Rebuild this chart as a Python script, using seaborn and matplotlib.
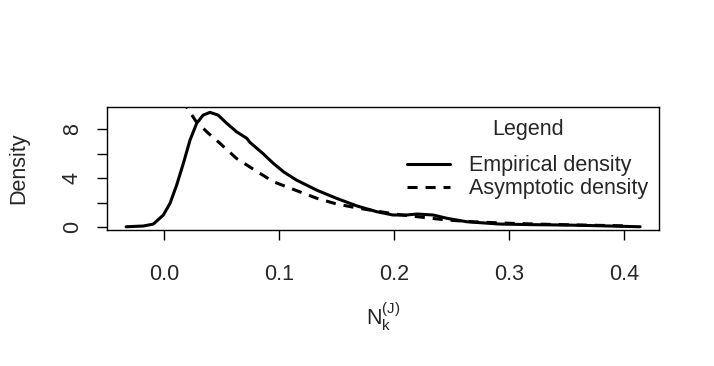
import numpy as np
import pandas as pd
import seaborn as sns
import matplotlib.pyplot as plt

# values
emp_x = [-0.033, -0.018, -0.0093, -0.0006, 0.0052, 0.011, 0.0168, 0.0226, 0.0284, 0.034,
         0.040, 0.047, 0.0545, 0.063, 0.072, 0.0748, 0.086, 0.095, 0.104, 0.115,
         0.133, 0.150, 0.168, 0.185, 0.199, 0.211, 0.220, 0.234, 0.246, 0.263,
         0.292, 0.321, 0.350, 0.379, 0.414]
emp_y = [0.02, 0.08, 0.24, 0.98, 1.93, 3.43, 5.2, 7.1, 8.47, 9.14,
         9.36, 9.14, 8.47, 7.78, 7.24, 6.9, 6.0, 5.2, 4.5, 3.84,
         3.0, 2.34, 1.71, 1.25, 0.98, 0.98, 1.06, 0.98, 0.71, 0.43,
         0.24, 0.19, 0.16, 0.10, 0.02]

asy_x = [0.016, 0.021, 0.028, 0.0386, 0.0487, 0.063, 0.078, 0.095, 0.115, 0.133,
         0.150, 0.170, 0.188, 0.205, 0.225, 0.246, 0.270, 0.301, 0.340, 0.397, 0.405]
asy_y = [10.4, 9.6, 8.6, 7.65, 6.83, 5.6, 4.7, 3.7, 2.98, 2.34,
         1.88, 1.52, 1.25, 1.0, 0.79, 0.57, 0.42, 0.30, 0.20, 0.10, 0.09]

emp = pd.DataFrame({'x': emp_x, 'y': emp_y})
asy = pd.DataFrame({'x': asy_x, 'y': asy_y})

sns.set_style("white")
plt.rcParams['font.family'] = ['Liberation Sans', 'DejaVu Sans']
fs = 15.5

fig = plt.figure(figsize=(7.14, 3.66), dpi=100)
ax = fig.add_axes([107 / 714, (366 - 230) / 366, (659 - 107) / 714, (230 - 107) / 366])

sns.lineplot(data=emp, x='x', y='y', ax=ax, color='black', linewidth=2.2,
             label='Empirical density', sort=False)
sns.lineplot(data=asy, x='x', y='y', ax=ax, color='black', linewidth=2.2,
             label='Asymptotic density', sort=False)
ax.lines[1].set_dashes([3.3, 2.6])
for ln in ax.lines:
    ln.set_solid_joinstyle('round')
    ln.set_solid_capstyle('round')

ax.set_xlim(-0.0496, 0.4304)
ax.set_ylim(-0.245, 9.8)

ax.set_xticks([0.0, 0.1, 0.2, 0.3, 0.4])
ax.set_xticklabels(['0.0', '0.1', '0.2', '0.3', '0.4'])
ax.set_yticks([0, 2, 4, 6, 8])
ax.set_yticklabels(['0', '', '4', '', '8'], rotation=90, va='center')
ax.tick_params(direction='out', length=7.5, width=1, color='black',
               labelsize=fs, bottom=True, left=True)
ax.tick_params(axis='x', pad=17)
ax.tick_params(axis='y', pad=10)

for s in ax.spines.values():
    s.set_color('black')
    s.set_linewidth(1)

ax.set_xlabel(r'$\mathregular{N_k^{(J)}}$', fontsize=fs, labelpad=11)
ax.set_ylabel('Density', fontsize=fs, labelpad=23)

leg = ax.legend(frameon=False, title='Legend', loc='upper right',
                bbox_to_anchor=(1.016, 1.06), fontsize=fs, title_fontsize=fs,
                handlelength=2.0, labelspacing=0.1, handletextpad=0.9)
# R puts more room between the legend title and the entries
leg._legend_box.sep = 11

fig.savefig('out.png', dpi=100)
